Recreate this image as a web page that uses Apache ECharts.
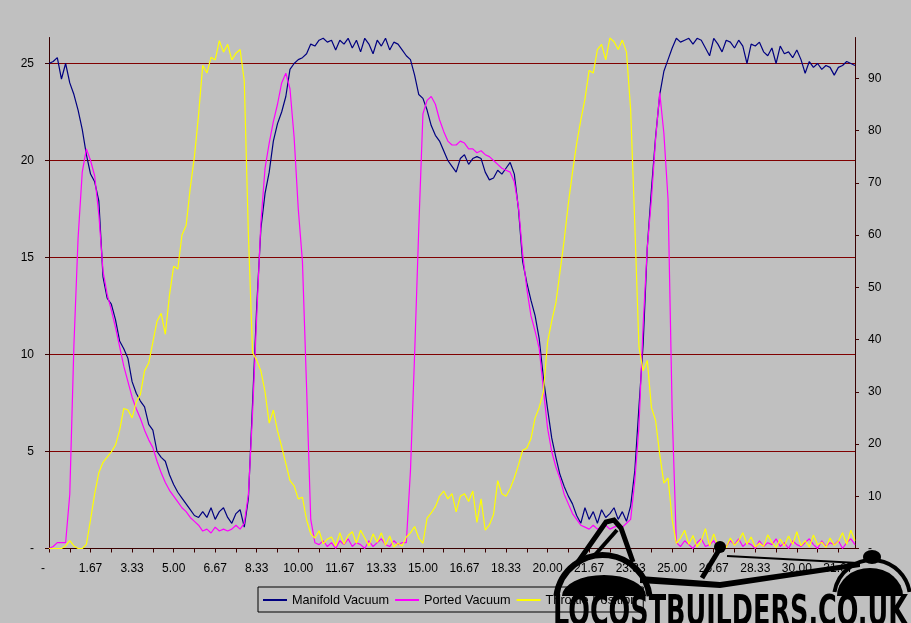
<!DOCTYPE html>
<html>
<head>
<meta charset="utf-8">
<script src="https://cdn.jsdelivr.net/npm/echarts@6/dist/echarts.min.js"></script>
<style>
html,body{margin:0;padding:0;background:#c0c0c0;}
#c{width:911px;height:623px;}
</style>
</head>
<body>
<div id="c"></div>
<script>
// Time axis: one sample every 1/6 s
const sampleCount = 195;
const categories = [];
for (let i = 0; i < sampleCount; i++) categories.push((i / 6).toFixed(2));

const xTickLabels = ['-', '1.67', '3.33', '5.00', '6.67', '8.33', '10.00', '11.67', '13.33', '15.00',
  '16.67', '18.33', '20.00', '21.67', '23.33', '25.00', '26.67', '28.33', '30.00', '31.67'];
const leftTicks = [0, 5, 10, 15, 20, 25];
const rightTicks = [0, 10, 20, 30, 40, 50, 60, 70, 80, 90];

const seriesNames = ['Manifold Vacuum', 'Ported Vacuum', 'Throttle Position'];

const manifoldVacuum = [
  25.0,25.1,25.3,24.2,25.0,24.0,23.4,22.6,21.6,20.3,19.3,18.9,17.9,
  14.0,12.9,12.6,11.8,10.7,10.3,9.8,8.6,8.0,7.6,7.3,6.4,
  6.1,5.0,4.7,4.5,3.8,3.3,2.9,2.6,2.3,2.0,1.7,1.6,
  1.9,1.6,2.1,1.5,1.9,2.1,1.6,1.3,1.8,2.0,1.1,2.6,
  7.5,12.5,16.5,18.3,19.4,21.0,21.9,22.5,23.3,24.7,25.0,25.2,
  25.3,25.5,26.0,25.9,26.2,26.3,26.1,26.2,25.7,26.2,26.0,26.3,
  25.8,26.2,25.6,26.3,26.0,25.5,26.2,25.9,26.3,25.7,26.1,26.0,
  25.7,25.4,25.2,24.4,23.4,23.2,22.6,21.8,21.3,21.0,20.5,20.0,
  19.7,19.4,20.1,20.3,19.8,20.1,20.2,20.1,19.4,19.0,19.1,19.5,
  19.3,19.6,19.9,19.3,17.5,14.8,13.7,12.8,12.0,10.8,8.8,7.2,
  5.7,4.7,3.8,3.2,2.7,2.3,1.7,1.3,2.1,1.5,1.9,1.3,
  2.0,1.6,1.8,2.1,1.5,1.9,1.4,2.2,4.0,7.3,10.5,15.5,
  18.5,21.2,23.4,24.6,25.2,25.8,26.3,26.1,26.2,26.3,26.0,26.3,
  26.2,25.8,25.4,26.3,26.0,25.6,26.2,26.1,25.8,26.2,25.9,25.0,
  26.0,25.9,26.1,25.6,25.4,25.8,25.0,25.9,25.5,25.6,25.3,25.7,
  25.2,24.5,25.1,24.8,25.0,24.7,24.9,24.8,24.4,24.8,24.9,25.1,25.0,24.9
];

const portedVacuum = [
  0.0,0.1,0.3,0.3,0.3,2.8,10.5,16.0,19.4,20.6,20.0,19.2,17.2,
  14.3,13.1,12.3,11.4,10.4,9.4,8.6,7.8,7.2,6.7,6.1,5.6,
  5.2,4.5,3.9,3.4,3.0,2.7,2.4,2.1,1.9,1.6,1.4,1.2,
  0.9,1.0,0.8,1.1,0.9,1.0,0.9,1.0,1.2,1.0,1.3,2.8,
  7.0,12.0,16.8,19.6,20.9,22.0,22.9,24.0,24.5,23.7,21.2,17.5,
  14.8,8.3,1.5,0.3,0.2,0.4,0.1,0.3,0.0,0.4,0.2,0.5,
  0.1,0.3,0.2,0.0,0.4,0.1,0.3,0.5,0.2,0.1,0.4,0.2,
  0.3,0.3,4.0,10.0,16.5,22.4,23.1,23.3,22.9,22.1,21.5,21.0,
  20.8,20.8,21.0,20.9,20.6,20.6,20.4,20.5,20.3,20.2,20.0,19.8,
  19.6,19.5,19.4,18.9,17.6,15.2,13.4,12.0,11.2,10.3,8.2,6.2,
  5.0,4.2,3.6,2.8,2.3,1.8,1.5,1.2,1.1,1.0,1.2,1.0,
  1.1,1.2,1.0,1.1,1.2,1.1,1.3,1.5,3.5,6.3,11.5,15.5,
  18.0,21.1,23.5,21.4,18.0,7.0,0.3,0.1,0.4,0.2,0.0,0.3,
  0.5,0.1,0.2,0.4,0.0,0.3,0.1,0.4,0.2,0.5,0.1,0.3,
  0.2,0.0,0.4,0.1,0.3,0.2,0.5,0.1,0.3,0.0,0.4,0.2,
  0.1,0.3,0.5,0.2,0.0,0.4,0.1,0.3,0.2,0.4,0.0,0.3,0.5,0.2
];

const throttlePosition = [
  0,0,0,0,0.5,1.5,0.5,0,0,0.8,5.5,10.5,14.5,
  16.5,17.5,18.5,19.8,22.6,26.8,26.5,25.0,28.0,29.5,34.0,35.5,
  39.5,43.5,45.0,41.0,48.5,54.0,53.5,60.0,61.8,69.0,75.0,83.0,
  92.5,91.0,94.0,93.5,97.2,95.0,96.5,93.5,94.8,95.5,89.5,60.0,
  37.5,36.0,34.0,30.0,24.0,26.5,22.5,19.5,16.3,13.0,12.0,9.5,
  9.8,5.5,2.8,2.0,3.4,0.9,1.8,2.2,0.5,3.0,0.8,2.5,
  3.2,1.0,3.5,2.0,0.5,2.8,1.2,3.0,0.6,2.4,0.3,1.0,
  0.5,2.2,3.0,4.2,2.0,1.0,5.8,6.8,8.0,10.0,11.0,9.5,
  10.5,7.0,10.0,10.5,9.0,11.0,5.0,9.5,3.5,4.5,6.5,13.0,
  10.5,10.0,11.5,13.5,16.0,18.8,19.2,21.0,25.0,27.0,30.0,39.5,
  43.5,47.0,53.0,59.0,66.0,72.0,77.5,82.0,86.0,91.5,91.0,95.5,
  96.5,93.5,97.7,97.0,95.5,97.3,95.0,84.0,62.0,38.6,34.0,36.0,
  27.0,24.5,18.0,12.5,13.5,5.5,1.0,2.0,3.5,0.8,2.5,0.3,
  1.5,3.8,0.5,2.8,0.4,1.2,0.2,2.0,0.6,1.5,3.0,0.8,
  2.2,0.3,1.0,0.4,2.6,1.2,0.2,1.8,0.5,2.4,0.8,3.2,
  0.5,1.5,0.3,2.6,0.7,1.2,0.2,2.0,0.6,1.4,3.0,0.8,3.5,1.5
];

const FONT = '"Liberation Sans", Arial, sans-serif';
const AXIS_COLOR = '#3a0000';
const GRID_COLOR = '#800000';

// Watermark text
const logoText = 'LOCOSTBUILDERS.CO.UK';
const logoFont = 'bold 42px "Liberation Sans Narrow", "DejaVu Sans Condensed", "Liberation Sans", sans-serif';
const mctx = document.createElement('canvas').getContext('2d');
mctx.font = logoFont;
const logoW = mctx.measureText(logoText).width || 440;
const logoScaleX = 355 / logoW;

const chart = echarts.init(document.getElementById('c'), null, {renderer: 'canvas', width: 911, height: 623});

chart.setOption({
  animation: false,
  backgroundColor: '#c0c0c0',
  grid: {left: 49, top: 37.5, width: 806, height: 511, containLabel: false},
  legend: {
    left: 258, top: 587,
    padding: [6, 6, 5, 5],
    icon: 'rect',
    itemWidth: 24, itemHeight: 2, itemGap: 6,
    borderColor: '#000', borderWidth: 1,
    textStyle: {fontFamily: FONT, fontSize: 12.7, lineHeight: 14, color: '#000'},
    data: seriesNames
  },
  xAxis: {
    type: 'category',
    data: categories,
    boundaryGap: false,
    axisLine: {show: true, lineStyle: {color: AXIS_COLOR, width: 1}},
    axisTick: {show: true, interval: 4, length: 4, lineStyle: {color: AXIS_COLOR}},
    axisLabel: {
      interval: 9, margin: 14, color: '#000', fontFamily: FONT, fontSize: 12,
      formatter: function (v, idx) {
        const k = Math.round(idx / 10);
        if (k === 0) return '{d|' + xTickLabels[0] + '}';
        return xTickLabels[k] || '';
      },
      rich: {d: {fontFamily: FONT, fontSize: 12, color: '#000', padding: [0, 12, 0, 0]}}
    },
    splitLine: {show: false}
  },
  yAxis: [
    {
      type: 'value', position: 'left', min: 0, max: 511 * 5 / 97, interval: 5,
      axisLine: {show: true, lineStyle: {color: AXIS_COLOR, width: 1}},
      axisTick: {show: true, length: 4, lineStyle: {color: AXIS_COLOR}, customValues: leftTicks},
      axisLabel: {
        margin: 15, color: '#000', fontFamily: FONT, fontSize: 12, customValues: leftTicks,
        formatter: function (v) { return v === 0 ? '-' : (v % 5 === 0 ? String(v) : ''); }
      },
      splitLine: {show: true, lineStyle: {width: 1, color: GRID_COLOR}}
    },
    {
      type: 'value', position: 'right', min: 0, max: 97.8, interval: 10,
      axisLine: {show: true, lineStyle: {color: AXIS_COLOR, width: 1}},
      axisTick: {show: true, length: 4, lineStyle: {color: AXIS_COLOR}, customValues: rightTicks},
      axisLabel: {
        margin: 13, color: '#000', fontFamily: FONT, fontSize: 12, customValues: rightTicks,
        formatter: function (v) { return v === 0 ? '-' : (v % 10 === 0 ? String(v) : ''); }
      },
      splitLine: {show: false}
    }
  ],
  series: [
    {name: seriesNames[0], type: 'line', yAxisIndex: 0, data: manifoldVacuum, symbol: 'none',
      lineStyle: {color: '#000080', width: 1.2}, itemStyle: {color: '#000080'}},
    {name: seriesNames[1], type: 'line', yAxisIndex: 0, data: portedVacuum, symbol: 'none',
      lineStyle: {color: '#ff00ff', width: 1.2}, itemStyle: {color: '#ff00ff'}},
    {name: seriesNames[2], type: 'line', yAxisIndex: 1, data: throttlePosition, symbol: 'none',
      lineStyle: {color: '#ffff00', width: 1.2}, itemStyle: {color: '#ffff00'}}
  ],
  graphic: [
    // rear wheel arch and wheel
    {type: 'arc', z: 100, shape: {cx: 603, cy: 602, r: 47, startAngle: Math.PI * 1.04, endAngle: Math.PI * 1.96},
      style: {stroke: '#000', lineWidth: 6, fill: null}},
    {type: 'sector', z: 100, x: 604, y: 596, scaleY: 0.5,
      shape: {cx: 0, cy: 0, r: 42, startAngle: Math.PI, endAngle: Math.PI * 2}, style: {fill: '#000'}},
    // roll bar
    {type: 'polyline', z: 100, shape: {points: [[578, 562], [606, 522], [614, 520], [621, 528], [633, 562]]},
      style: {stroke: '#000', lineWidth: 5, fill: null}},
    {type: 'line', z: 100, shape: {x1: 594, y1: 556, x2: 617, y2: 530}, style: {stroke: '#000', lineWidth: 4}},
    // body
    {type: 'polygon', z: 100, shape: {points: [[640, 576], [720, 582], [860, 562], [860, 567], [720, 588], [640, 583]]},
      style: {fill: '#000'}},
    {type: 'line', z: 100, shape: {x1: 727, y1: 556, x2: 858, y2: 563}, style: {stroke: '#000', lineWidth: 2}},
    // driver
    {type: 'circle', z: 100, shape: {cx: 720, cy: 547, r: 6}, style: {fill: '#000'}},
    {type: 'line', z: 100, shape: {x1: 719, y1: 550, x2: 702, y2: 578}, style: {stroke: '#000', lineWidth: 5}},
    // front wheel arch and wheel
    {type: 'arc', z: 100, shape: {cx: 872, cy: 598, r: 38, startAngle: Math.PI * 1.05, endAngle: Math.PI * 1.95},
      style: {stroke: '#000', lineWidth: 4, fill: null}},
    {type: 'sector', z: 100, x: 870, y: 596, scaleY: 0.85,
      shape: {cx: 0, cy: 0, r: 33, startAngle: Math.PI, endAngle: Math.PI * 2}, style: {fill: '#000'}},
    {type: 'ellipse', z: 100, shape: {cx: 872, cy: 557, rx: 9, ry: 7}, style: {fill: '#000'}},
    // watermark text
    {type: 'text', z: 101, x: 553, y: 614, scaleX: logoScaleX,
      style: {text: logoText, font: logoFont, fill: '#000', textAlign: 'left', textVerticalAlign: 'middle'}}
  ]
});
</script>
</body>
</html>
